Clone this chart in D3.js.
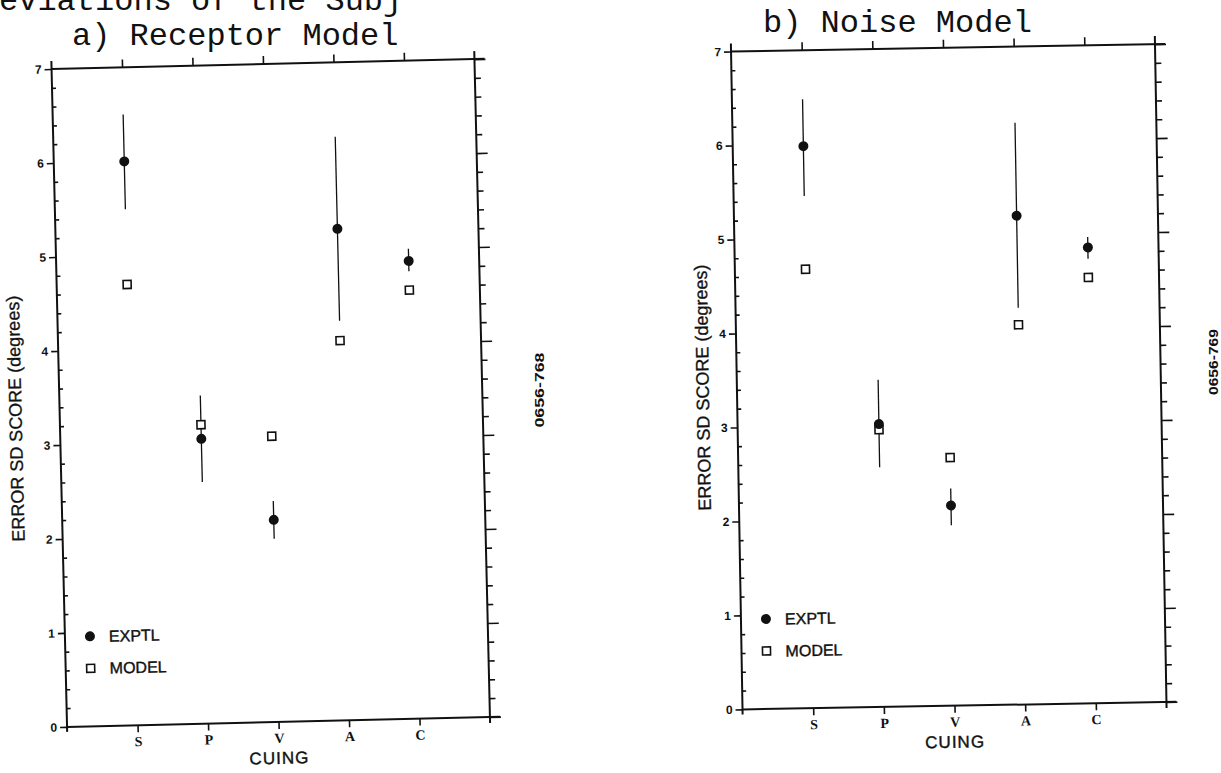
<!DOCTYPE html>
<html>
<head>
<meta charset="utf-8">
<script src="https://cdn.jsdelivr.net/npm/d3@7"></script>
<style>
  html, body { margin: 0; padding: 0; background: #fff; }
  svg { display: block; }
</style>
</head>
<body>
<svg id="chart" width="1221" height="773"></svg>
<script>
// ---- data ----
const categories = ["S", "P", "V", "A", "C"];
const yTickValues = [0, 1, 2, 3, 4, 5, 6, 7];

const receptorExptl     = [6.00, 3.03, 2.15, 5.23, 4.87];
const receptorExptlLow  = [5.49, 2.57, 1.95, 4.25, 4.76];
const receptorExptlHigh = [6.50, 3.49, 2.35, 6.21, 5.00];
const receptorModel     = [4.69, 3.18, 3.04, 4.04, 4.56];

const noiseExptl     = [5.98, 3.01, 2.13, 5.20, 4.85];
const noiseExptlLow  = [5.45, 2.55, 1.92, 4.22, 4.73];
const noiseExptlHigh = [6.48, 3.48, 2.31, 6.19, 4.96];
const noiseModel     = [4.67, 2.95, 2.64, 4.04, 4.53];

const legendLabels = ["EXPTL", "MODEL"];
const yAxisTitle = "ERROR SD SCORE (degrees)";
const xAxisTitle = "CUING";

// ---- drawing ----
const svg = d3.select("#chart");
const ink = "#111";
const sans = "'Liberation Sans', Arial, sans-serif";
const mono = "'Liberation Mono', 'Courier New', monospace";
const serif = "'Liberation Serif', 'DejaVu Serif', serif";

svg.append("rect").attr("width", 1221).attr("height", 773).attr("fill", "#fff");

// clipped header line and panel titles
svg.append("text").attr("x", -1).attr("y", 10)
  .attr("font-family", mono).attr("font-size", 32).attr("fill", ink)
  .text("eviations of the Subj");
svg.append("text").attr("x", 72).attr("y", 45)
  .attr("font-family", mono).attr("font-size", 32).attr("fill", ink)
  .text("a) Receptor Model");
svg.append("text").attr("x", 763).attr("y", 32)
  .attr("font-family", mono).attr("font-size", 32).attr("fill", ink)
  .text("b) Noise Model");

function sideLabel(txt, x, y, len) {
  svg.append("text")
    .attr("transform", `translate(${x},${y}) rotate(-90)`)
    .attr("text-anchor", "middle").attr("dy", "0.35em")
    .attr("font-family", sans).attr("font-weight", "bold").attr("font-size", 12)
    .attr("textLength", len).attr("lengthAdjust", "spacingAndGlyphs")
    .attr("fill", ink).text(txt);
}
sideLabel("0656-768", 540, 390, 75);
sideLabel("0656-769", 1214, 362, 66);

function drawPanel(cfg) {
  const { cx, cy, w, h, angle } = cfg;
  const g = svg.append("g")
    .attr("transform", `rotate(${angle},${cx},${cy}) translate(${cx - w / 2},${cy - h / 2})`);

  const y = d3.scaleLinear().domain([0, 7]).range([h, 0]);
  const x = d3.scalePoint().domain(categories).range([0, w]).padding(1);
  const minor = d3.range(0, 7.001, 0.2).map(v => +v.toFixed(1)).filter(v => Math.abs(v - Math.round(v)) > 1e-6);

  // frame (lines cross slightly at corners as in the plot)
  const frame = [
    [0, -8, 0, h + 5],
    [w, -8, w, h + 6],
    [0, 0, w + 10, 0],
    [0, h, w + 10, h]
  ];
  g.selectAll("line.frame").data(frame).join("line").attr("class", "frame")
    .attr("x1", d => d[0]).attr("y1", d => d[1]).attr("x2", d => d[2]).attr("y2", d => d[3])
    .attr("stroke", ink).attr("stroke-width", 2);

  function styleAxis(sel) {
    sel.select(".domain").remove();
    sel.selectAll(".tick line").attr("stroke", ink).attr("stroke-width", 1.6);
  }

  // left axis: major ticks outward with labels
  g.append("g").call(d3.axisLeft(y).tickValues(yTickValues).tickSize(7).tickPadding(3).tickFormat(d3.format("d")))
    .call(styleAxis)
    .call(s => s.selectAll("text").attr("font-family", sans).attr("font-weight", "bold")
      .attr("font-size", 12).attr("fill", ink));
  // left axis minor ticks (inward)
  g.append("g").call(d3.axisRight(y).tickValues(minor).tickSize(4).tickFormat(""))
    .call(styleAxis);

  // right axis major + minor ticks (outward)
  g.append("g").attr("transform", `translate(${w},0)`)
    .call(d3.axisRight(y).tickValues(yTickValues).tickSize(11).tickFormat(""))
    .call(styleAxis);
  g.append("g").attr("transform", `translate(${w},0)`)
    .call(d3.axisRight(y).tickValues(minor).tickSize(6).tickFormat(""))
    .call(styleAxis);

  // top ticks
  g.append("g").call(d3.axisTop(x).tickSize(8).tickFormat(""))
    .call(styleAxis);
  // bottom ticks with category labels
  g.append("g").attr("transform", `translate(0,${h})`)
    .call(d3.axisBottom(x).tickSize(7).tickPadding(4))
    .call(styleAxis)
    .call(s => s.selectAll("text").attr("font-family", serif).attr("font-weight", "bold")
      .attr("font-size", 14).attr("fill", ink));

  // axis titles
  g.append("text")
    .attr("transform", `translate(${cfg.yTitleX},${h * cfg.yTitleFrac}) rotate(-90)`)
    .attr("text-anchor", "middle")
    .attr("font-family", sans).attr("font-size", 18).attr("fill", ink)
    .attr("stroke", ink).attr("stroke-width", 0.3)
    .text(yAxisTitle);
  g.append("text")
    .attr("x", w / 2).attr("y", h + 42)
    .attr("text-anchor", "middle")
    .attr("font-family", sans).attr("font-size", 17).attr("fill", ink)
    .attr("stroke", ink).attr("stroke-width", 0.4)
    .attr("letter-spacing", 1)
    .text(xAxisTitle);

  const rows = categories.map((c, i) => ({
    c, e: cfg.exptl[i], lo: cfg.lo[i], hi: cfg.hi[i], m: cfg.model[i]
  }));

  // error bars
  g.selectAll("line.err").data(rows).join("line").attr("class", "err")
    .attr("x1", d => x(d.c)).attr("x2", d => x(d.c))
    .attr("y1", d => y(d.hi)).attr("y2", d => y(d.lo))
    .attr("stroke", ink).attr("stroke-width", 1.3);
  // model squares
  g.selectAll("rect.model").data(rows).join("rect").attr("class", "model")
    .attr("x", d => x(d.c) - 4).attr("y", d => y(d.m) - 4)
    .attr("width", 8).attr("height", 8)
    .attr("fill", "#fff").attr("stroke", ink).attr("stroke-width", 1.6);
  // experimental dots
  g.selectAll("circle.exptl").data(rows).join("circle").attr("class", "exptl")
    .attr("cx", d => x(d.c)).attr("cy", d => y(d.e)).attr("r", 5)
    .attr("fill", ink);

  // legend
  const lx = 25;
  const lyE = h - 90, lyM = h - 58;
  g.append("circle").attr("cx", lx).attr("cy", lyE).attr("r", 5).attr("fill", ink);
  g.append("rect").attr("x", lx - 4).attr("y", lyM - 4).attr("width", 8).attr("height", 8)
    .attr("fill", "#fff").attr("stroke", ink).attr("stroke-width", 1.6);
  g.selectAll("text.leg").data(legendLabels).join("text").attr("class", "leg")
    .attr("x", lx + 19).attr("y", (d, i) => i === 0 ? lyE : lyM).attr("dy", "0.36em")
    .attr("font-family", sans).attr("font-size", 16).attr("fill", ink)
    .attr("stroke", ink).attr("stroke-width", 0.4)
    .text(d => d);
}

drawPanel({
  cx: 270.75, cy: 393, w: 423, h: 658, angle: -1.35,
  yTitleX: -38, yTitleFrac: 0.53,
  exptl: receptorExptl, lo: receptorExptlLow, hi: receptorExptlHigh, model: receptorModel
});
drawPanel({
  cx: 948.75, cy: 376.75, w: 424, h: 658, angle: -1.0,
  yTitleX: -28, yTitleFrac: 0.51,
  exptl: noiseExptl, lo: noiseExptlLow, hi: noiseExptlHigh, model: noiseModel
});
</script>
</body>
</html>
